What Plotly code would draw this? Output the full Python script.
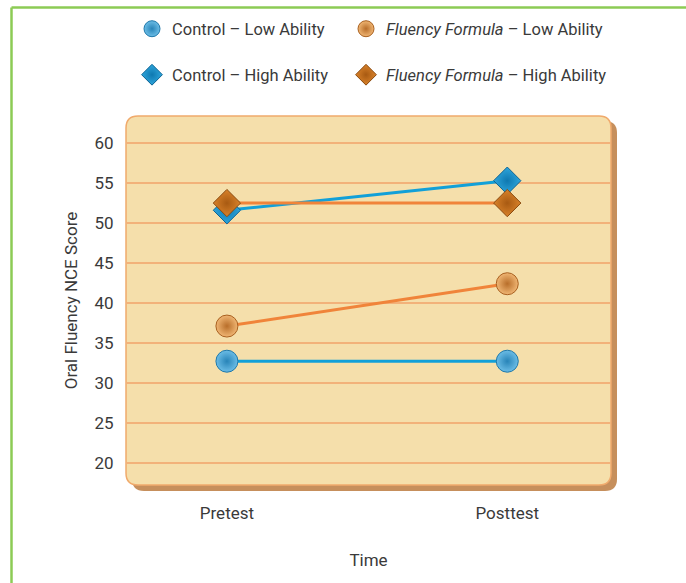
import plotly.graph_objects as go

times = ["Pretest", "Posttest"]
control_low = [32.7, 32.7]
fluency_low = [37.1, 42.4]
control_high = [51.6, 55.3]
fluency_high = [52.5, 52.5]
y_ticks = [20, 25, 30, 35, 40, 45, 50, 55, 60]

W, H = 686, 583
L, R, T, B = 126, 611, 116, 485  # plot area in px
FONT = "Roboto, sans-serif"
TXT = "#3a3a3a"

def px(x, y):
    return (x - L) / (R - L), (B - y) / (B - T)

def rrect(x0, y0, x1, y1, r):
    def P(x, y):
        a, b = px(x, y)
        return f"{a:.5f},{b:.5f}"
    return (f"M {P(x0 + r, y0)} L {P(x1 - r, y0)} Q {P(x1, y0)} {P(x1, y0 + r)} "
            f"L {P(x1, y1 - r)} Q {P(x1, y1)} {P(x1 - r, y1)} "
            f"L {P(x0 + r, y1)} Q {P(x0, y1)} {P(x0, y1 - r)} "
            f"L {P(x0, y0 + r)} Q {P(x0, y0)} {P(x0 + r, y0)} Z")

BLUE_LINE = "#12a0d8"
ORANGE_LINE = "#f0843a"

series = [
    dict(name="Control – Low Ability", y=control_low, line=BLUE_LINE, symbol="circle", size=22,
         color="#6cbde6", grad="#2884b8", mline="#1f78aa", legend="legend"),
    dict(name="<i>Fluency Formula</i> – Low Ability", y=fluency_low, line=ORANGE_LINE, symbol="circle", size=22,
         color="#f0b674", grad="#b86e2a", mline="#a86020", legend="legend2"),
    dict(name="Control – High Ability", y=control_high, line=BLUE_LINE, symbol="diamond", size=21,
         color="#2ea6dc", grad="#0f78b0", mline="#0c6494", legend="legend3"),
    dict(name="<i>Fluency Formula</i> – High Ability", y=fluency_high, line=ORANGE_LINE, symbol="diamond", size=21,
         color="#d9822a", grad="#a85a12", mline="#8a4a10", legend="legend4"),
]

fig = go.Figure()
for s in series:
    fig.add_trace(go.Scatter(
        x=times, y=s["y"], mode="lines+markers", showlegend=False,
        line=dict(color=s["line"], width=3),
        marker=dict(symbol=s["symbol"], size=s["size"], color=s["color"],
                    gradient=dict(type="radial", color=s["grad"]),
                    line=dict(color=s["mline"], width=1)),
    ))
for s in series:
    fig.add_trace(go.Scatter(
        x=[None], y=[None], mode="markers", name=s["name"], legend=s["legend"],
        marker=dict(symbol=s["symbol"], size=s["size"], color=s["color"],
                    gradient=dict(type="radial", color=s["grad"]),
                    line=dict(color=s["mline"], width=1)),
    ))

shapes = [
    dict(type="path", xref="paper", yref="paper", layer="below",
         path=rrect(L + 6, T + 5, R + 6, B + 6, 12), fillcolor="#c68f5c", line=dict(width=0)),
    dict(type="path", xref="paper", yref="paper", layer="below",
         path=rrect(L, T, R, B, 12), fillcolor="#f5dfab", line=dict(color="#f0aa6c", width=1.5)),
]
gx, gy = px(11.5, 583)
_, gy2 = px(11.5, 7.5)
gx2, _ = px(686, 7.5)
shapes.append(dict(type="line", xref="paper", yref="paper", x0=gx, y0=gy, x1=gx, y1=gy2,
                   line=dict(color="#8ccb55", width=2.5)))
shapes.append(dict(type="line", xref="paper", yref="paper", x0=gx, y0=gy2, x1=gx2, y1=gy2,
                   line=dict(color="#8ccb55", width=2.5)))

def leg(xp, yp):
    x, y = px(xp, yp)
    return dict(x=x, y=y, xanchor="left", yanchor="middle", orientation="h",
                bgcolor="rgba(0,0,0,0)", font=dict(family=FONT, size=16.5, color=TXT),
                itemsizing="trace")

fig.update_layout(
    width=W, height=H,
    margin=dict(l=L, r=W - R, t=T, b=H - B),
    paper_bgcolor="white", plot_bgcolor="rgba(0,0,0,0)",
    font=dict(family=FONT, size=17, color=TXT),
    shapes=shapes,
    legend=leg(132, 29), legend2=leg(346, 29), legend3=leg(132, 75), legend4=leg(346, 75),
    xaxis=dict(range=[-0.36, 1.37], showgrid=False, zeroline=False, showline=False,
               ticks="outside", ticklen=13, tickcolor="rgba(0,0,0,0)",
               title=dict(text="Time", font=dict(size=17), standoff=31)),
    yaxis=dict(range=[17.2, 63.4], tickvals=y_ticks, showgrid=True, gridcolor="#f2b27a",
               gridwidth=1.5, zeroline=False, showline=False,
               ticks="outside", ticklen=8, tickcolor="rgba(0,0,0,0)",
               title=dict(text="Oral Fluency NCE Score", font=dict(size=17), standoff=12)),
)
fig.write_html("out.html", config={"displayModeBar": False},
               post_script="document.body.style.margin='0';document.body.style.padding='0';")
